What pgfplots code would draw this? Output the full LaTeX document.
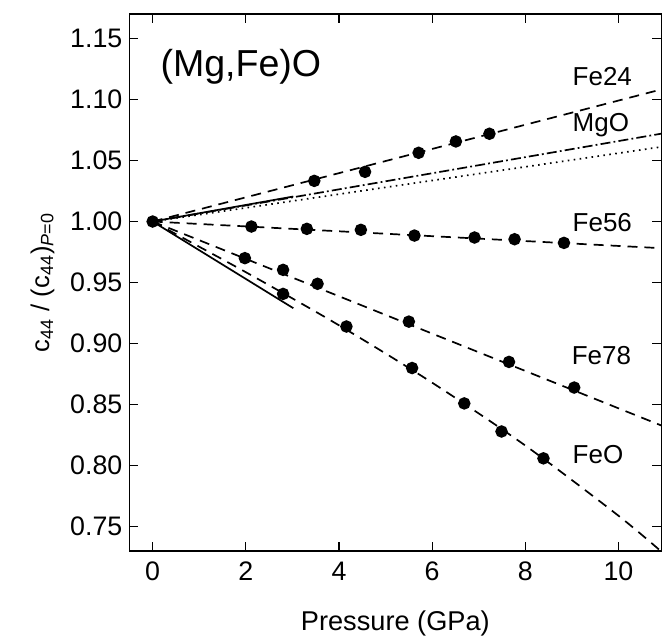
\documentclass[border=0pt]{standalone}
\usepackage{fontspec}
\setmainfont{Liberation Sans}
\usepackage{pgfplots}
\pgfplotsset{compat=1.18}

% Fitted trends and measured points, normalised to c44 at zero pressure
\pgfplotstableread{
x y
3.47 1.0333
4.56 1.0407
5.71 1.0563
6.51 1.0656
7.23 1.0719
}\feA
\pgfplotstableread{
x y
2.12 0.9959
3.31 0.9940
4.47 0.9932
5.62 0.9885
6.91 0.9869
7.77 0.9855
8.83 0.9825
}\feB
\pgfplotstableread{
x y
1.98 0.9700
2.80 0.9604
3.54 0.9490
5.50 0.9180
7.65 0.8850
9.05 0.8640
}\feC
\pgfplotstableread{
x y
2.80 0.9407
4.16 0.9140
5.57 0.8800
6.69 0.8510
7.49 0.8280
8.39 0.8060
}\feD

\begin{document}
\begin{tikzpicture}
\begin{axis}[
  at={(0,0)}, anchor=south west,
  scale only axis,
  width=266.25pt, height=268.85pt,
  xmin=-0.5, xmax=10.92,
  ymin=0.73, ymax=1.17,
  xtick={0,2,4,6,8,10},
  ytick={0.75,0.80,0.85,0.90,0.95,1.00,1.05,1.10,1.15},
  yticklabel style={/pgf/number format/.cd, fixed, fixed zerofill, precision=2},
  /pgf/number format/assume math mode=true,
  tick align=inside,
  major tick length=4.5pt,
  tick style={line width=0.6pt, black},
  axis line style={line width=0.7pt},
  ticklabel style={font=\fontsize{13.4}{15}\selectfont},
  xticklabel style={yshift=-2pt},
  xlabel={Pressure (GPa)},
  xlabel style={font=\fontsize{13.6}{15}\selectfont, yshift=-8pt},
  ylabel={c\textsubscript{44} / (c\textsubscript{44})\textsubscript{\textit{P}=0}},
  ylabel style={font=\fontsize{12.8}{14}\selectfont, yshift=1pt},
  clip=true,
  every axis plot/.append style={line width=0.85pt, black},
]
% trend lines
\addplot[dash pattern=on 5pt off 3.5pt] coordinates {(0,1) (11,1.109)};
\addplot[dash pattern=on 5pt off 1.6pt on 0.9pt off 1.6pt] coordinates {(0,1) (11,1.0725)};
\addplot[dash pattern=on 0.8pt off 2.2pt] coordinates {(0,1) (11,1.0616)};
\addplot[solid] coordinates {(0,1) (3.02,1.0205)};
\addplot[dash pattern=on 5pt off 3.5pt] coordinates {(0,1) (11,0.978)};
\addplot[dash pattern=on 5pt off 3.5pt] coordinates {(0,1) (11,0.8317)};
\addplot[dash pattern=on 5pt off 3.5pt, smooth] coordinates {
  (0,1.000) (2,0.9585) (4,0.9150) (6,0.8680) (8,0.8165) (10,0.7590) (11,0.7270)};
\addplot[solid] coordinates {(0,1) (3.02,0.929)};
% measured points
\addplot[only marks, mark=*, mark size=2.7pt] table {\feA};
\addplot[only marks, mark=*, mark size=2.7pt] table {\feB};
\addplot[only marks, mark=*, mark size=2.7pt] table {\feC};
\addplot[only marks, mark=*, mark size=2.7pt] table {\feD};
\addplot[only marks, mark=*, mark size=2.7pt] coordinates {(0,1)};
% labels
\node[anchor=west, inner sep=0pt, font=\fontsize{18.8}{20}\selectfont] at (axis cs:0.16,1.1268) {(Mg,Fe)O};
\node[anchor=west, inner sep=0pt, font=\fontsize{13}{14}\selectfont] at (axis cs:9.01,1.1186) {Fe24};
\node[anchor=west, inner sep=0pt, font=\fontsize{13}{14}\selectfont] at (axis cs:9.01,1.0793) {MgO};
\node[anchor=west, inner sep=0pt, font=\fontsize{13}{14}\selectfont] at (axis cs:9.01,0.9993) {Fe56};
\node[anchor=west, inner sep=0pt, font=\fontsize{13}{14}\selectfont] at (axis cs:8.99,0.8900) {Fe78};
\node[anchor=west, inner sep=0pt, font=\fontsize{13}{14}\selectfont] at (axis cs:9.01,0.8088) {FeO};
\end{axis}
\path (-64.75pt,-40.65pt) rectangle (266.25pt,275.85pt);
\end{tikzpicture}
\end{document}
